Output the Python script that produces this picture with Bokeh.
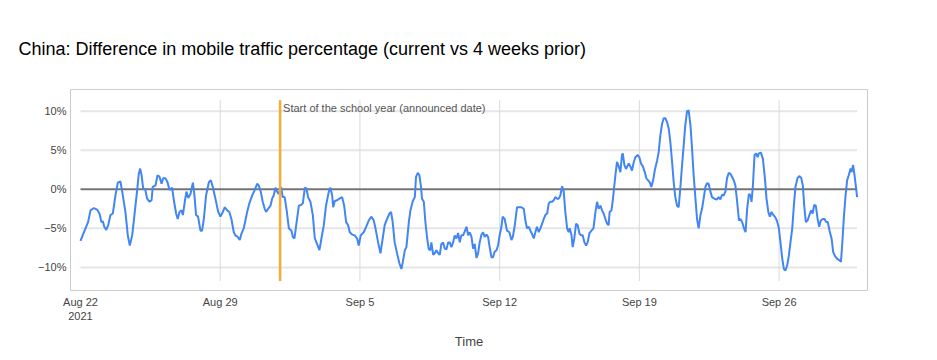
import pandas as pd
from bokeh.plotting import figure
from bokeh.models import FixedTicker, Range1d
from bokeh.core.properties import value
from bokeh.embed import file_html
from bokeh.resources import INLINE

# ---------------- data ----------------
series_start = "2021-08-22"
# time of each reading, in days since series_start
day_offsets = [
    0.0, 0.25, 0.38, 0.5, 0.67, 0.83, 0.95, 1.05, 1.12, 1.19, 1.29, 1.39, 1.5, 1.62, 1.75, 1.87, 2.0, 2.09,
    2.25, 2.37, 2.47, 2.59, 2.72, 2.84, 2.92, 2.99, 3.06, 3.14, 3.24, 3.34, 3.46, 3.56, 3.62, 3.76, 3.86,
    3.96, 4.06, 4.14, 4.26, 4.36, 4.46, 4.59, 4.69, 4.79, 4.87, 4.96, 5.06, 5.13, 5.23,
    5.31, 5.4, 5.51, 5.63, 5.71, 5.79, 5.89, 6.01, 6.09, 6.18, 6.29, 6.43, 6.53, 6.63, 6.76, 6.9, 7.01,
    7.13, 7.23, 7.35, 7.46, 7.56, 7.68, 7.76, 7.88, 7.98, 8.06, 8.18, 8.26, 8.35, 8.46, 8.6, 8.73, 8.85,
    8.93, 9.03, 9.13, 9.23, 9.3, 9.4, 9.52, 9.6, 9.68, 9.77, 9.85, 9.93, 10.05, 10.13, 10.23, 10.33, 10.44,
    10.57, 10.64, 10.72,
    10.85, 10.94, 11.05, 11.14, 11.24, 11.32, 11.4, 11.52, 11.64, 11.74, 11.85, 11.97, 12.07, 12.19, 12.3,
    12.44, 12.52, 12.61, 12.66, 12.74, 12.86, 12.97, 13.11, 13.21, 13.31, 13.41, 13.49, 13.61, 13.74,
    13.86, 13.94, 14.04, 14.19, 14.31, 14.44, 14.58, 14.69, 14.78, 14.91, 15.03, 15.14, 15.24, 15.36,
    15.48, 15.56, 15.64, 15.74, 15.86, 15.98, 16.08, 16.15, 16.25, 16.33,
    16.45, 16.53, 16.65, 16.75, 16.81, 16.9, 16.98, 17.06, 17.11, 17.2, 17.28, 17.37, 17.45, 17.53, 17.58,
    17.67, 17.75, 17.83, 17.92, 18.0, 18.08, 18.17, 18.25, 18.33, 18.42, 18.5, 18.58, 18.67, 18.75, 18.83,
    18.92, 19.0, 19.08, 19.17, 19.25, 19.34, 19.42, 19.5, 19.59, 19.67, 19.75, 19.84, 19.92, 20.0, 20.09,
    20.17, 20.25, 20.34, 20.42, 20.5, 20.59, 20.67, 20.75, 20.84, 20.92, 21.0, 21.09, 21.15, 21.25, 21.37,
    21.49, 21.59, 21.66, 21.76,
    21.87, 21.98, 22.09, 22.21, 22.29, 22.37, 22.46, 22.54, 22.62, 22.71, 22.79, 22.87, 22.96, 23.04,
    23.13, 23.21, 23.29, 23.38, 23.46, 23.54, 23.63, 23.71, 23.79, 23.88, 23.96, 24.04, 24.13, 24.21,
    24.29, 24.38, 24.46, 24.51, 24.6, 24.66, 24.74, 24.83, 24.91, 25.0, 25.08, 25.16, 25.25, 25.33, 25.41,
    25.5, 25.6, 25.7, 25.8, 25.88, 25.96, 26.05, 26.13, 26.21, 26.3, 26.38, 26.46, 26.51, 26.6, 26.66,
    26.73, 26.8, 26.88, 26.97, 27.05, 27.13, 27.17, 27.25, 27.33,
    27.47, 27.55, 27.63, 27.72, 27.8, 27.92, 28.0, 28.08, 28.18, 28.27, 28.35, 28.44, 28.52, 28.6, 28.69,
    28.77, 28.89, 28.97, 29.05, 29.14, 29.22, 29.3, 29.39, 29.47, 29.55, 29.64, 29.72, 29.8, 29.89, 29.97,
    30.05, 30.14, 30.22, 30.3, 30.39, 30.47, 30.56, 30.64, 30.72, 30.81, 30.89, 30.97, 31.06, 31.14,
    31.22, 31.31, 31.39, 31.47, 31.56, 31.64, 31.76, 31.89, 31.97, 32.06, 32.14, 32.22, 32.31, 32.39,
    32.48, 32.56, 32.64, 32.73, 32.81,
    32.9, 32.99, 33.07, 33.15, 33.24, 33.32, 33.4, 33.49, 33.57, 33.62, 33.69, 33.77, 33.85, 33.92, 33.99,
    34.09, 34.19, 34.29, 34.37, 34.46, 34.54, 34.62, 34.71, 34.79, 34.89, 34.99, 35.07, 35.16, 35.24,
    35.32, 35.41, 35.49, 35.57, 35.66, 35.74, 35.82, 35.92, 36.01, 36.11, 36.19, 36.26, 36.34, 36.43,
    36.53, 36.61, 36.68, 36.76, 36.84, 36.93, 37.01, 37.09, 37.19, 37.28, 37.36, 37.44, 37.53, 37.63,
    37.71, 37.79, 37.91, 38.03, 38.1, 38.16, 38.24, 38.33, 38.41, 38.49, 38.58, 38.63, 38.71, 38.78,
    38.86, 38.91,
]
# difference in mobile traffic, percent (current vs 4 weeks prior)
traffic_pct = [
    -6.6, -5.0, -4.2, -2.7, -2.4, -2.6, -3.1, -4.2, -4.1, -4.8, -5.2, -4.6, -3.3, -3.1, -0.8, 0.85, 1.0, -0.3,
    -2.9, -5.9, -7.2, -5.9, -2.9, -0.1, 2.0, 2.65, 1.8, 0.1, 0.0, -1.2, -1.6, -1.4, 0.3, 0.5, 1.8,
    1.6, 0.7, 1.4, 1.4, 0.9, -0.1, 0.2, -1.6, -3.1, -3.8, -2.9, -2.7, -3.3, -1.5,
    -0.3, -1.1, -0.6, 0.85, -0.8, -3.3, -3.5, -5.3, -5.3, -3.8, -0.8, 0.9, 1.15, 0.3, -1.2, -2.9, -3.5,
    -2.9, -2.3, -2.7, -2.9, -3.8, -5.5, -5.9, -6.1, -6.5, -5.7, -5.0, -4.0, -2.9, -1.8, -0.8, -0.1, 0.7,
    0.5, -0.3, -1.6, -2.5, -2.9, -2.5, -2.1, -1.2, -0.8, 0.2, -0.3, -0.6, 0.3, -1.0, -1.0, -2.7, -5.0,
    -5.3, -6.1, -6.3,
    -3.8, -2.1, -2.0, -1.8, 0.2, 0.1, -1.0, -1.6, -3.3, -6.3, -7.0, -7.8, -6.3, -4.6, -2.1,
    -0.3, 0.2, -0.8, -2.3, -1.5, -1.4, -1.2, -1.0, -2.1, -4.2, -4.6, -5.5, -5.8, -5.9,
    -6.3, -7.2, -5.9, -5.5, -4.8, -4.0, -3.5, -4.0, -5.0, -6.8, -8.2, -6.3, -4.6, -3.8,
    -3.1, -2.9, -4.2, -6.8, -8.2, -9.5, -10.2, -9.3, -7.8, -7.4,
    -4.2, -2.7, -1.5, -1.0, 1.6, 2.1, 1.8, 0.3, -1.2, -1.6, -4.2, -6.3, -7.7, -7.8, -6.8,
    -8.4, -8.2, -7.8, -8.2, -8.4, -7.0, -6.8, -7.6, -7.7, -6.8, -6.8, -7.4, -6.8, -5.9, -6.3,
    -5.6, -6.8, -5.9, -5.9, -5.4, -4.8, -5.9, -5.5, -6.1, -7.6, -7.0, -8.8, -8.2, -6.8, -5.8,
    -5.5, -6.1, -5.8, -6.1, -7.4, -8.7, -8.7, -8.0, -7.8, -7.2, -5.9, -4.8, -3.5, -3.8, -5.3,
    -5.5, -6.5, -6.1, -4.6,
    -2.3, -2.3, -2.3, -2.5, -4.0, -5.0, -4.8, -5.3, -5.7, -6.3, -5.5, -4.8, -5.5, -5.0,
    -4.4, -3.8, -3.3, -3.1, -1.8, -1.6, -1.6, -1.4, -1.0, -1.2, -1.2, -0.8, 0.4, -0.3,
    -2.9, -5.0, -5.5, -5.0, -5.9, -7.4, -6.3, -4.4, -4.6, -5.7, -5.9, -5.9, -6.8, -7.2, -6.8,
    -5.6, -5.3, -5.0, -2.9, -1.6, -2.5, -2.1, -2.7, -3.1, -3.8, -4.4, -4.6, -2.9, -2.7, -1.6,
    0.1, 1.8, 3.5, 2.9, 2.2, 4.4, 4.6, 3.1, 2.6,
    3.3, 2.9, 2.4, 3.5, 4.1, 4.4, 4.1, 3.3, 2.9, 2.2, 1.4, 1.15, 0.9, 0.3, 1.15,
    2.4, 3.7, 4.8, 6.9, 8.4, 9.1, 9.1, 8.6, 7.8, 6.1, 3.5, 0.9, -1.0, -2.1, -2.3,
    0.1, 3.1, 5.6, 8.2, 10.0, 10.1, 8.2, 5.2, 1.8, -1.2, -3.8, -5.0, -3.3, -2.5,
    -1.2, 0.3, 0.8, 0.7, -0.3, -1.0, -1.2, -1.3, -1.0, -1.3, -0.7, -0.8, -0.3, 1.4,
    2.1, 2.0, 1.6, 1.15, 0.5,
    -1.6, -4.0, -3.8, -4.2, -5.0, -5.5, -2.5, -0.6, -0.8, -1.6, 0.5, 4.4, 4.6, 4.1, 4.6,
    4.7, 3.9, 1.4, -1.2, -2.9, -3.5, -2.9, -3.3, -3.5, -4.0, -5.0, -6.8, -8.9, -10.2,
    -10.4, -9.7, -8.5, -6.8, -5.0, -2.1, 0.3, 1.4, 1.7, 1.45, 0.5, -2.1, -4.2, -4.0,
    -3.2, -2.7, -3.1, -2.0, -2.1, -3.8, -4.8, -4.0, -3.8, -3.8, -4.2, -4.2, -5.3, -6.3,
    -8.0, -8.5, -8.9, -9.1, -9.3, -7.2, -3.8, -0.8, 1.15, 1.8, 2.65, 2.2, 3.1, 1.8,
    0.1, -1.0,
]

y_ticks = [-10, -5, 0, 5, 10]
y_tick_labels = ["\u221210%", "\u22125%", "0%", "5%", "10%"]
x_tick_dates = ["2021-08-22", "2021-08-29", "2021-09-05", "2021-09-12", "2021-09-19", "2021-09-26"]
x_tick_labels = ["Aug 22\n2021", "Aug 29", "Sep 5", "Sep 12", "Sep 19", "Sep 26"]
event_date = "2021-09-01"
event_label = "Start of the school year (announced date)"
title_text = "China: Difference in mobile traffic percentage (current vs 4 weeks prior)"
x_title = "Time"

# ---------------- derived ----------------
t0 = pd.Timestamp(series_start)
times = [t0 + pd.Timedelta(days=d) for d in day_offsets]
tick_ts = [pd.Timestamp(d) for d in x_tick_dates]
tick_ms = [int(t.value // 10**6) for t in tick_ts]
event_ts = pd.Timestamp(event_date)

FONT = "Liberation Sans"

p = figure(
    width=929, height=352,
    x_axis_type="datetime",
    output_backend="svg", toolbar_location=None,
    x_range=Range1d(t0 - pd.Timedelta(days=0.501), t0 + pd.Timedelta(days=39.43)),
    y_range=Range1d(-12.96, 12.78),
    min_border_left=70, min_border_right=62, min_border_top=89, min_border_bottom=62,
)
p.background_fill_color = "white"
p.border_fill_color = "white"
p.outline_line_color = "#cccccc"
p.outline_line_width = 1
p.xgrid.visible = False
p.ygrid.visible = False

# title
p.title.text = title_text
p.title.text_font = FONT
p.title.text_font_size = "18px"
p.title.text_font_style = "normal"
p.title.text_color = "#000000"
p.title.align = "left"
p.title.offset = -52
p.title.standoff = 62

# gridlines (custom extents)
grid_y = [v for v in y_ticks if v != 0]
p.segment(x0=[times[0]] * len(grid_y), x1=[times[-1]] * len(grid_y), y0=grid_y, y1=grid_y,
          line_color="#e6e6e6", line_width=2)
p.segment(x0=tick_ts[1:], x1=tick_ts[1:], y0=[-11.75] * (len(tick_ts) - 1), y1=[11.4] * (len(tick_ts) - 1),
          line_color="#d9d9d9", line_width=1)
# zero baseline
p.segment(x0=[times[0]], x1=[times[-1]], y0=[0], y1=[0], line_color="#757575", line_width=2)

# series
p.line(times, traffic_pct, line_color="#4285f4", line_width=2)

# event marker
p.segment(x0=[event_ts], x1=[event_ts], y0=[-11.75], y1=[11.4], line_color="#f5ab35", line_width=2.5)
p.text(x=[event_ts], y=[10.35], text=[event_label], x_offset=3,
       text_baseline="middle", text_align="left",
       text_font=value(FONT), text_font_size="11px", text_color="#555555")

# axes
for ax in (p.xaxis[0], p.yaxis[0]):
    ax.axis_line_color = None
    ax.major_tick_line_color = None
    ax.minor_tick_line_color = None
    ax.major_tick_in = 0
    ax.major_tick_out = 0
    ax.minor_tick_in = 0
    ax.minor_tick_out = 0
    ax.major_label_text_font = FONT
    ax.major_label_text_font_size = "11px"
    ax.major_label_text_color = "#444444"

p.yaxis.ticker = FixedTicker(ticks=y_ticks)
p.yaxis.major_label_overrides = dict(zip(y_ticks, y_tick_labels))
p.yaxis.major_label_standoff = 4

p.xaxis.ticker = FixedTicker(ticks=tick_ms)
p.xaxis.major_label_overrides = dict(zip(tick_ms, x_tick_labels))
p.xaxis.major_label_standoff = 5
p.xaxis.axis_label = x_title
p.xaxis.axis_label_text_font = FONT
p.xaxis.axis_label_text_font_size = "13px"
p.xaxis.axis_label_text_font_style = "normal"
p.xaxis.axis_label_text_color = "#444444"
p.xaxis.axis_label_standoff = 9

open("out.html", "w").write(file_html(p, INLINE))
